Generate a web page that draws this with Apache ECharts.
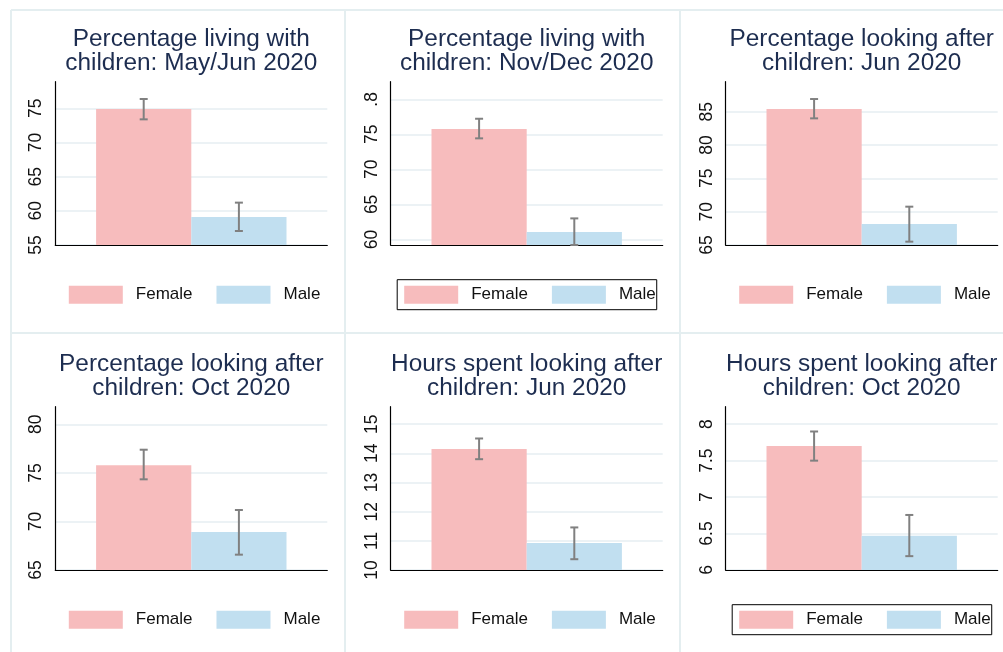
<!DOCTYPE html>
<html>
<head>
<meta charset="utf-8">
<script src="https://cdn.jsdelivr.net/npm/echarts@6/dist/echarts.min.js"></script>
<style>
  html, body { margin: 0; padding: 0; background: #fff; }
  #chart { width: 1003px; height: 652px; }
</style>
</head>
<body>
<div id="chart"></div>
<script>
// Panel titles (two lines each)
const panelTitles = [
  'Percentage living with\nchildren: May/Jun 2020',
  'Percentage living with\nchildren: Nov/Dec 2020',
  'Percentage looking after\nchildren: Jun 2020',
  'Percentage looking after\nchildren: Oct 2020',
  'Hours spent looking after\nchildren: Jun 2020',
  'Hours spent looking after\nchildren: Oct 2020'
];
const groups = ['Female', 'Male'];

// Means and confidence intervals per panel
const femaleMean = [74.9, 75.76, 85.4, 75.78, 14.15, 7.70];
const femaleLow  = [73.39, 74.43, 84.0, 74.34, 13.80, 7.50];
const femaleHigh = [76.37, 77.23, 86.9, 77.39, 14.51, 7.90];
const maleMean   = [59.1, 61.04, 68.15, 68.91, 10.93, 6.47];
const maleLow    = [57.05, 59.2, 65.5, 66.58, 10.37, 6.19];
const maleHigh   = [61.2, 63.0, 70.75, 71.18, 11.46, 6.755];

// Value axis ranges and ticks
const yMin = [55, 59.2, 65, 65, 10, 6];
const yMax = [78.9, 82.52, 89.5, 81.82, 15.6, 8.24];
const yTicks = [
  [55, 60, 65, 70, 75],
  [60, 65, 70, 75, 80],
  [65, 70, 75, 80, 85],
  [65, 70, 75, 80],
  [10, 11, 12, 13, 14, 15],
  [6, 6.5, 7, 7.5, 8]
];
const yTickLabels = [
  ['55', '60', '65', '70', '75'],
  ['60', '65', '70', '75', '.8'],
  ['65', '70', '75', '80', '85'],
  ['65', '70', '75', '80'],
  ['10', '11', '12', '13', '14', '15'],
  ['6', '6.5', '7', '7.5', '8']
];
const boxedLegend = [false, true, false, false, false, true];

const FONT = '"Liberation Sans", Arial, Helvetica, sans-serif';
const FEMALE_COLOR = '#f7bcbd';
const MALE_COLOR = '#c1dff0';
const GRID_COLOR = '#e6eef2';
const FRAME_COLOR = '#e4eef0';
const CAT_GAP = 0.30;

// Panel geometry
const colLeft = [55.3, 390.7, 725.7];
const plotWidth = 272;
const rowTop = [81.7, 406.7];
const plotHeight = 163.3;

const chart = echarts.init(document.getElementById('chart'), null, { renderer: 'canvas' });

const grids = [], xAxes = [], yAxes = [], titles = [], legends = [], series = [];

panelTitles.forEach((t, i) => {
  const col = i % 3, row = Math.floor(i / 3);
  const left = colLeft[col], top = rowTop[row];

  grids.push({ left: left, top: top, width: plotWidth, height: plotHeight, containLabel: false });

  xAxes.push({
    type: 'category', gridIndex: i, data: ['all'],
    axisLine: { show: true, lineStyle: { color: '#000', width: 1.2 } },
    axisTick: { show: false }, axisLabel: { show: false }, splitLine: { show: false }
  });

  const labels = yTickLabels[i];
  const ticks = yTicks[i];
  yAxes.push({
    type: 'value', gridIndex: i, min: yMin[i], max: yMax[i],
    axisLine: { show: true, lineStyle: { color: '#000', width: 1.2 } },
    axisTick: { show: false, customValues: ticks },
    axisLabel: {
      customValues: ticks, rotate: 90, margin: 10,
      fontFamily: FONT, fontSize: 17.5, color: '#111',
      formatter: v => {
        const k = ticks.findIndex(x => Math.abs(x - v) < 1e-9);
        return k >= 0 ? labels[k] : '';
      }
    },
    splitLine: { show: true, lineStyle: { color: GRID_COLOR, width: 1.5 } }
  });

  titles.push({
    text: t, left: left + plotWidth / 2, top: top - 54, textAlign: 'center', padding: 0,
    textStyle: { fontFamily: FONT, fontSize: 24.4, fontWeight: 'normal', color: '#1d2d50', lineHeight: 24 }
  });

  legends.push({
    data: groups, left: left + 6.5, top: top + 198, orient: 'horizontal',
    icon: 'rect', itemWidth: 54, itemHeight: 18, itemGap: 24,
    padding: [6, 1, 6, 7],
    borderColor: '#000', borderWidth: boxedLegend[i] ? 1 : 0,
    textStyle: { fontFamily: FONT, fontSize: 17, color: '#111', lineHeight: 18, padding: [0, 0, 0, 8] }
  });

  series.push({
    name: 'Female', type: 'bar', xAxisIndex: i, yAxisIndex: i, z: 2,
    barGap: '0%', barCategoryGap: (CAT_GAP * 100) + '%',
    itemStyle: { color: FEMALE_COLOR }, data: [femaleMean[i]], silent: true
  });
  series.push({
    name: 'Male', type: 'bar', xAxisIndex: i, yAxisIndex: i, z: 2,
    barGap: '0%', barCategoryGap: (CAT_GAP * 100) + '%',
    itemStyle: { color: MALE_COLOR }, data: [maleMean[i]], silent: true
  });
  // Confidence interval whiskers centred on each bar
  series.push({
    name: 'CI', type: 'custom', xAxisIndex: i, yAxisIndex: i, z: 3, silent: true,
    data: [[0, femaleLow[i], femaleHigh[i], 0], [0, maleLow[i], maleHigh[i], 1]],
    renderItem: (params, api) => {
      const hi = api.coord([api.value(0), api.value(2)]);
      const lo = api.coord([api.value(0), api.value(1)]);
      const band = api.size([1, 0])[0];
      const barW = band * (1 - CAT_GAP) / 2;
      const x = hi[0] + (api.value(3) === 0 ? -barW / 2 : barW / 2);
      const cap = 4;
      const style = { stroke: '#808080', lineWidth: 2 };
      return {
        type: 'group',
        children: [
          { type: 'line', shape: { x1: x, y1: hi[1], x2: x, y2: lo[1] }, style: style },
          { type: 'line', shape: { x1: x - cap, y1: hi[1], x2: x + cap, y2: hi[1] }, style: style },
          { type: 'line', shape: { x1: x - cap, y1: lo[1], x2: x + cap, y2: lo[1] }, style: style }
        ]
      };
    }
  });
});

// Thin frames separating the panels
const frameLines = [
  [11, 10, 1003, 10], [11, 333, 1003, 333],
  [11, 10, 11, 652], [345, 10, 345, 652], [680, 10, 680, 652]
];
const graphic = frameLines.map(l => ({
  type: 'line', silent: true, z: -10,
  shape: { x1: l[0], y1: l[1], x2: l[2], y2: l[3] },
  style: { stroke: FRAME_COLOR, lineWidth: 2 }
}));

chart.setOption({
  animation: false,
  backgroundColor: '#ffffff',
  graphic: graphic,
  title: titles,
  legend: legends,
  grid: grids,
  xAxis: xAxes,
  yAxis: yAxes,
  series: series
});
</script>
</body>
</html>
